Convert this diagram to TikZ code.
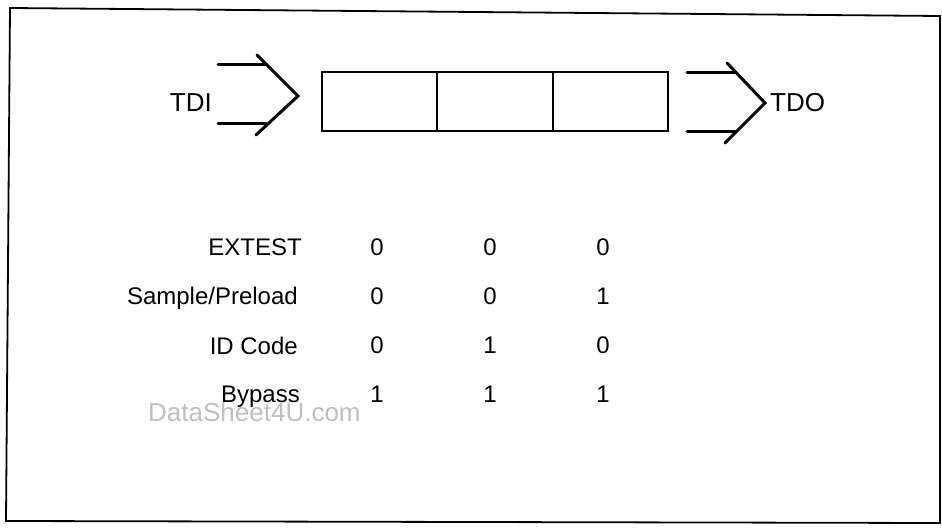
\documentclass[tikz,border=0pt]{standalone}
\usepackage{fontspec}
\setmainfont{Liberation Sans}
\usetikzlibrary{positioning}

\tikzset{
  lbl/.style={font=\fontsize{24}{27}\selectfont, inner sep=0pt},
  pinlbl/.style={font=\fontsize{26}{29}\selectfont, inner sep=0pt},
  bit/.style={font=\fontsize{24}{27}\selectfont, inner sep=0pt, anchor=base},
  pin/.style={line width=3pt, line cap=round},
}

\begin{document}
\begin{tikzpicture}[x=1pt,y=-1pt]
\useasboundingbox (0,0) rectangle (942,529);

% outer frame
\draw[line width=1.8pt] (10,8) -- (940,16) -- (940,523) -- (6,521) -- cycle;

% instruction register, three cells
\draw[line width=2.4pt] (322,72) rectangle (668,131);
\draw[line width=2pt] (437.3,72) -- (437.3,131) (552.7,72) -- (552.7,131);

% TDI side
\draw[pin] (218,65) -- (267,65) (218,124) -- (266,124);
\draw[pin] (257,55) -- (298,96) -- (256,135);
\node[pinlbl, anchor=base east] (tdi) at (212,112) {TDI};

% TDO side
\draw[pin] (687,73) -- (735,73) (687,132) -- (735,132);
\draw[pin] (727,63) -- (765,103) -- (725,143);
\node[pinlbl, anchor=base west] (tdo) at (770,112) {TDO};

% instruction codes
\node[lbl, anchor=base east] (extest) at (302,256) {EXTEST};
\node[lbl, anchor=base east] (sample) at (298,305) {Sample/Preload};
\node[lbl, anchor=base east] (idcode) at (298,354) {ID Code};
\node[lbl, anchor=base east] (bypass) at (300,402) {Bypass};

\foreach \a/\b/\c [count=\i] in {0/0/0, 0/0/1, 0/1/0, 1/1/1} {
  \pgfmathsetmacro{\yb}{256+48.7*(\i-1)}
  \node[bit] (b\i-1) at (377,\yb) {\a};
  \node[bit] (b\i-2) at (490,\yb) {\b};
  \node[bit] (b\i-3) at (603,\yb) {\c};
}

% scan watermark
\node[font=\fontsize{26}{28}\selectfont, text=black!25, inner sep=0pt, anchor=base west] (wm) at (148,421) {DataSheet4U.com};
\end{tikzpicture}
\end{document}
